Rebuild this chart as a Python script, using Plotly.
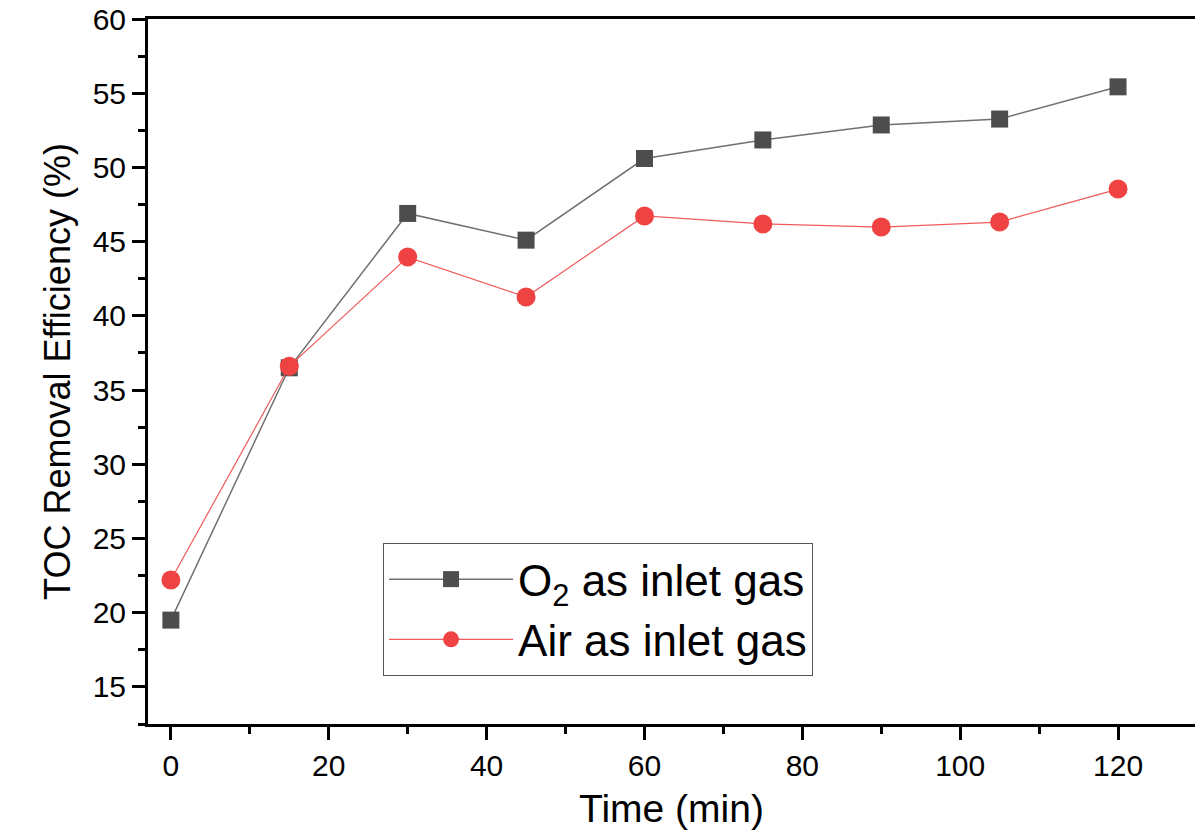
import plotly.graph_objects as go

time_min = [0, 15, 30, 45, 60, 75, 90, 105, 120]
o2_toc = [19.5, 36.5, 46.9, 45.1, 50.6, 51.85, 52.86, 53.26, 55.43]
air_toc = [22.2, 36.6, 43.96, 41.27, 46.73, 46.19, 45.98, 46.32, 48.54]

x_ticks = [0, 20, 40, 60, 80, 100, 120]
y_ticks = [15, 20, 25, 30, 35, 40, 45, 50, 55, 60]

FONT = "Liberation Sans"

fig = go.Figure()
fig.add_trace(go.Scatter(
    x=time_min, y=o2_toc, mode="lines+markers",
    name="O<sub>2</sub> as inlet gas",
    line=dict(color="#707070", width=1.5),
    marker=dict(symbol="square", size=17, color="#4d4d4d"),
))
fig.add_trace(go.Scatter(
    x=time_min, y=air_toc, mode="lines+markers",
    name="Air as inlet gas",
    line=dict(color="#f05a5a", width=1.2),
    marker=dict(symbol="circle", size=19, color="#ef4242"),
))

axis_common = dict(
    showgrid=False, zeroline=False,
    showline=True, linecolor="black", linewidth=3,
    ticks="outside", ticklen=13, tickwidth=3, tickcolor="black",
    tickfont=dict(family=FONT, size=30, color="black"),
)

fig.update_xaxes(
    range=[-2.9, 129.75], tickvals=x_ticks, mirror=True,
    minor=dict(dtick=10, tick0=0, ticks="outside", ticklen=7, tickwidth=3, tickcolor="black"),
    title=dict(text="Time (min)", font=dict(family=FONT, size=39, color="black"), standoff=14),
    **axis_common,
)
fig.update_yaxes(
    range=[12.5, 60], tickvals=y_ticks,
    minor=dict(dtick=2.5, tick0=0, ticks="outside", ticklen=7, tickwidth=3, tickcolor="black"),
    title=dict(text="TOC Removal Efficiency (%)", font=dict(family=FONT, size=36, color="black"), standoff=12),
    **axis_common,
)

fig.update_layout(
    width=1195, height=839,
    margin=dict(l=148, r=0, t=19, b=115),
    plot_bgcolor="white", paper_bgcolor="white",
    showlegend=True,
    legend=dict(
        x=0.2245, y=0.2567, xanchor="left", yanchor="top",
        bordercolor="#555555", borderwidth=1, bgcolor="white",
        font=dict(family=FONT, size=44, color="black"),
        itemwidth=124,
    ),
)

fig.write_html("out.html")
